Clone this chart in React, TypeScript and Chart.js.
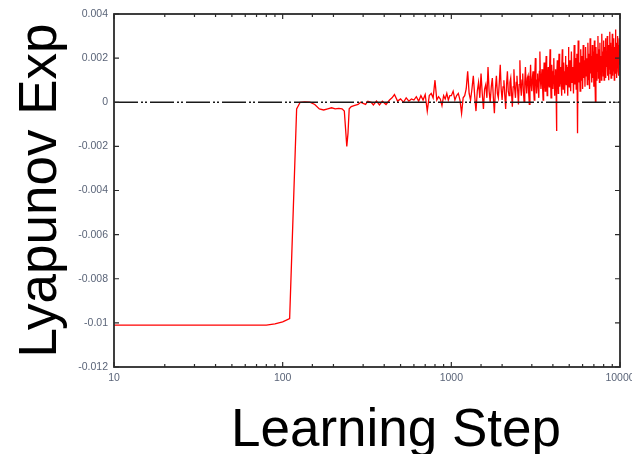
import { useEffect, useRef } from 'react';
import { Chart, registerables } from 'chart.js';

Chart.register(...registerables);

// ---- Data ----
const transitionSteps = [10, 20, 40, 60, 80, 90, 100, 110, 121, 127];
const transitionValues = [-0.0101, -0.0101, -0.0101, -0.0101, -0.0101, -0.01005, -0.00995, -0.0098, -0.0003, 0.0];

const plateauSteps = [135, 145, 155, 165, 175, 185, 195, 205, 215, 225, 232, 236, 240, 244, 248, 255, 265, 280, 290, 300, 310, 320, 335, 345, 360, 375, 390, 410, 430, 445];
const plateauValues = [0.00002, 0.0, -0.0001, -0.0003, -0.00035, -0.0003, -0.00025, -0.0003, -0.00028, -0.0003, -0.0004, -0.0012, -0.002, -0.0014, -0.0003, -0.0002, -0.00015, -0.0001, 0.0, -0.00005, -0.0001, 0.00005, 0.0, -0.00012, 0.00005, -0.00012, 0.00005, -0.0001, 0.0001, 0.0002];

const midSteps = [460, 480, 500, 520, 540, 560, 580, 600, 620, 640, 660, 680, 700, 720, 740, 760, 780, 800, 820, 840, 860, 880, 900, 920, 940, 960, 980];
const midValues = [0.00035, 0.00005, 0.00015, 0.0, 0.0002, 0.00005, 0.00015, 0.0001, 0.00025, 0.00005, 0.0003, 0.0001, 0.00035, -0.0004, 0.0003, 0.0004, 0.0002, 0.001, 0.0001, 0.00025, 0.00015, -0.00015, 0.0003, 0.00015, 0.0004, 0.0001, 0.0003];

const earlyBandSteps = [
  1000, 1025, 1050, 1075, 1100, 1125, 1150, 1175, 1200, 1225, 1250, 1275, 1300, 1325, 1350, 1375, 1400, 1425, 1450, 1475,
  1500, 1525, 1550, 1575, 1600, 1625, 1650, 1675, 1700, 1725, 1750, 1775, 1800, 1825, 1850, 1875, 1900, 1925, 1950, 1975,
  2000, 2025, 2050, 2075, 2100, 2125, 2150, 2175, 2200, 2225, 2250, 2275, 2300, 2325, 2350, 2375, 2400, 2425, 2450, 2475,
  2500, 2525, 2550, 2575, 2600, 2625, 2650, 2675, 2700, 2725, 2750, 2775, 2800, 2825, 2850, 2875, 2900, 2925, 2950, 2975,
  3000, 3025, 3050, 3075, 3100, 3125, 3150, 3175, 3200, 3225, 3250, 3275, 3300, 3325, 3350, 3375, 3400, 3425, 3450, 3475,
  3500, 3525, 3550, 3575, 3600, 3625, 3650, 3675, 3700, 3725, 3750, 3775, 3800, 3825, 3850, 3875, 3900, 3925, 3950, 3975,
  4000, 4025, 4050, 4075, 4100, 4125, 4150, 4175, 4200, 4225, 4250, 4275, 4300, 4325, 4350, 4375, 4400, 4425, 4450, 4475,
  4500, 4525, 4550, 4575, 4600, 4625, 4650, 4675, 4700, 4725, 4750, 4775, 4800, 4825, 4850, 4875, 4900, 4925, 4950, 4975,
];
const earlyBandValues = [
  0.0003, 0.0005, 0.0001, 0.0003, 0.0004, 0.0001, -0.0005, 0.0002, 0.0003, 0.0006, 0.0014, 0.0004, 0.0001, 0.0006, 0.0012, 0.0003, -0.0004, 0.0005, 0.0009, 0.0002,
  0.0013, 0.0004, -0.0003, 0.0006, 0.0008, 0.0002, 0.0016, 0.0005, 0.0, 0.0007, 0.0011, 0.0002, -0.0005, 0.0006, 0.0012, 0.0004, 0.0002, 0.0009, 0.0017, 0.0006,
  0.0001, 0.0007, 0.001, 0.0003, -0.0003, 0.0008, 0.0014, 0.0005, 0.0003, 0.0009, 0.0011, 0.0004, -0.0002, 0.0007, 0.0015, 0.0006, 0.0002, 0.0009, 0.0012, 0.0005,
  -0.0001, 0.0008, 0.0019, 0.0007, 0.0003, 0.001, 0.0013, 0.0005, 0.0, 0.0009, 0.0016, 0.0008, 0.0004, 0.0011, 0.0012, 0.0004, -0.0001, 0.0009, 0.0017, 0.0008,
  0.0005, 0.0011, 0.0014, 0.0006, 0.0001, 0.0012, 0.002, 0.0009, 0.0004, 0.001, 0.0013, 0.0006, 0.0002, 0.0014, 0.0023, 0.001, 0.0006, 0.0012, 0.0015, 0.0007,
  0.0001, 0.0011, 0.0018, 0.0009, 0.0005, 0.0014, 0.0021, 0.001, 0.0003, 0.0012, 0.0016, 0.0009, 0.0007, 0.0015, 0.0024, 0.0011, 0.0002, 0.0013, 0.0017, 0.0009,
  0.0006, 0.0014, 0.002, 0.001, 0.0003, 0.0012, 0.0015, 0.0008, -0.0013, 0.0011, 0.0019, 0.0009, 0.0004, 0.0015, 0.0022, 0.0012, 0.0007, 0.0013, 0.0016, 0.0009,
  0.0003, 0.0015, 0.0024, 0.0012, 0.0006, 0.0013, 0.0018, 0.001, 0.0004, 0.0014, 0.0021, 0.0012, 0.0008, 0.0013, 0.0017, 0.0009, 0.0003, 0.0016, 0.0025, 0.0013,
];

const lateBandSteps = [
  5000, 5050, 5100, 5150, 5200, 5250, 5300, 5350, 5400, 5450,
  5500, 5550, 5600, 5650, 5700, 5750, 5800, 5850, 5900, 5950,
  6000, 6050, 6100, 6150, 6200, 6250, 6300, 6350, 6400, 6450,
  6500, 6550, 6600, 6650, 6700, 6750, 6800, 6850, 6900, 6950,
  7000, 7050, 7100, 7150, 7200, 7250, 7300, 7350, 7400, 7450,
  7500, 7550, 7600, 7650, 7700, 7750, 7800, 7850, 7900, 7950,
  8000, 8050, 8100, 8150, 8200, 8250, 8300, 8350, 8400, 8450,
  8500, 8550, 8600, 8650, 8700, 8750, 8800, 8850, 8900, 8950,
  9000, 9050, 9100, 9150, 9200, 9250, 9300, 9350, 9400, 9450,
  9500, 9550, 9600, 9650, 9700, 9750, 9800, 9850, 9900, 9950,
  10000,
];
const lateBandValues = [
  0.0007, 0.0019, 0.0005, 0.0023, 0.0009, 0.0016, 0.0004, 0.0026, 0.0008, 0.002,
  0.0006, 0.0022, -0.0014, 0.0028, 0.0009, 0.0018, 0.0005, 0.0024, 0.001, 0.0021,
  0.0006, 0.0026, 0.0011, 0.0019, 0.0007, 0.0025, 0.0012, 0.002, 0.0008, 0.0027,
  0.001, 0.0022, 0.0006, 0.0029, 0.0013, 0.0021, 0.0009, 0.0026, 0.0011, 0.0023,
  0.0007, 0.0028, 0.0012, 0.0, 0.0025, 0.001, 0.0022, 0.0014, 0.003, 0.0011,
  0.0024, 0.0009, 0.0027, 0.0013, 0.0021, 0.001, 0.0031, 0.0015, 0.0023, 0.0012,
  0.0028, 0.001, 0.0025, 0.0014, 0.0029, 0.0011, 0.0022, 0.0016, 0.003, 0.0012,
  0.0026, 0.001, 0.0024, 0.0015, 0.0032, 0.0013, 0.0027, 0.0011, 0.0023, 0.0017,
  0.0031, 0.0012, 0.0026, 0.0014, 0.0029, 0.001, 0.0025, 0.0016, 0.0033, 0.0013,
  0.0027, 0.0011, 0.0024, 0.0018, 0.003, 0.0014, 0.0026, 0.0012, 0.0029, 0.0017,
  0.0022,
];

const zeroLineSteps = [10, 10000];
const zeroLineValues = [0, 0];

const xTickLabels = [10, 100, 1000, 10000];
const yMin = -0.012;
const yMax = 0.004;
const yStep = 0.002;

const xTitle = 'Learning Step';
const yTitle = 'Lyapunov Exp';

const TICK_FONT = { family: '"Liberation Sans", Arial, sans-serif', size: 10.5 };
const TICK_COLOR = '#5a6478';

const isMajor = (v: number) => xTickLabels.includes(v);

const framePlugin = {
  id: 'gnuplotFrame',
  afterDatasetsDraw(chart: any) {
    const { ctx, chartArea } = chart;
    const { left, right, top, bottom } = chartArea;
    const xs = chart.scales.x;
    const ys = chart.scales.y;
    ctx.save();
    ctx.strokeStyle = '#2b2b2b';
    ctx.lineWidth = 1.2;
    ctx.beginPath();
    xs.ticks.forEach((t: any) => {
      const px = xs.getPixelForValue(t.value);
      const len = isMajor(t.value) ? 5 : 3;
      ctx.moveTo(px, bottom);
      ctx.lineTo(px, bottom - len);
      ctx.moveTo(px, top);
      ctx.lineTo(px, top + len);
    });
    ys.ticks.forEach((t: any) => {
      const py = ys.getPixelForValue(t.value);
      ctx.moveTo(left, py);
      ctx.lineTo(left + 5, py);
      ctx.moveTo(right, py);
      ctx.lineTo(right - 5, py);
    });
    ctx.stroke();
    ctx.lineWidth = 1.8;
    ctx.strokeRect(left, top, right - left, bottom - top);
    ctx.restore();
  },
};

const titlePlugin = {
  id: 'axisTitles',
  afterDraw(chart: any) {
    const { ctx, chartArea } = chart;
    ctx.save();
    ctx.fillStyle = '#000';
    ctx.font = '53px "Liberation Sans", Arial, sans-serif';
    ctx.textAlign = 'center';
    ctx.textBaseline = 'alphabetic';
    ctx.fillText(xTitle, 396, 446);
    ctx.translate(56, (chartArea.top + chartArea.bottom) / 2);
    ctx.rotate(-Math.PI / 2);
    ctx.fillText(yTitle, 0, 0);
    ctx.restore();
  },
};

export default function App() {
  const ref = useRef<HTMLCanvasElement>(null);

  useEffect(() => {
    const canvas = ref.current;
    if (!canvas) return;
    const steps = [...transitionSteps, ...plateauSteps, ...midSteps, ...earlyBandSteps, ...lateBandSteps];
    const values = [...transitionValues, ...plateauValues, ...midValues, ...earlyBandValues, ...lateBandValues];

    const chart = new Chart(canvas, {
      type: 'line',
      data: {
        datasets: [
          {
            label: 'zero',
            data: zeroLineSteps.map((s, i) => ({ x: s, y: zeroLineValues[i] })),
            borderColor: '#1a1a1a',
            borderWidth: 1.3,
            borderDash: [24, 3, 2, 2, 2, 3],
            pointRadius: 0,
          },
          {
            label: 'Lyapunov Exp',
            data: steps.map((s, i) => ({ x: s, y: values[i] })),
            borderColor: '#ff0000',
            borderWidth: 1.3,
            pointRadius: 0,
            tension: 0,
          },
        ],
      },
      options: {
        responsive: false,
        animation: false,
        events: [],
        layout: { padding: { left: 0, right: 12, top: 14, bottom: 0 } },
        plugins: { legend: { display: false }, tooltip: { enabled: false } },
        scales: {
          x: {
            type: 'logarithmic',
            min: 10,
            max: 10000,
            grid: { display: false, drawTicks: false, tickLength: 0 },
            border: { display: false },
            ticks: {
              autoSkip: false,
              maxRotation: 0,
              minRotation: 0,
              padding: 5,
              color: TICK_COLOR,
              font: TICK_FONT,
              callback: (v: any) => (isMajor(Number(v)) ? String(v) : ''),
            },
            afterFit: (s: any) => {
              s.height = 87;
              s.paddingLeft = 0;
              s.paddingRight = 0;
            },
          },
          y: {
            type: 'linear',
            min: yMin,
            max: yMax,
            grid: { display: false, drawTicks: false, tickLength: 0 },
            border: { display: false },
            ticks: {
              stepSize: yStep,
              padding: 6,
              color: TICK_COLOR,
              font: TICK_FONT,
              callback: (v: any) => String(Number(Number(v).toFixed(3))),
            },
            afterFit: (s: any) => {
              s.width = 114;
              s.paddingTop = 0;
              s.paddingBottom = 0;
            },
          },
        },
      },
      plugins: [framePlugin, titlePlugin],
    } as any);
    return () => chart.destroy();
  }, []);

  return (
    <canvas
      ref={ref}
      width={632}
      height={454}
      style={{ position: 'fixed', left: 0, top: 0, width: 632, height: 454 }}
    />
  );
}
